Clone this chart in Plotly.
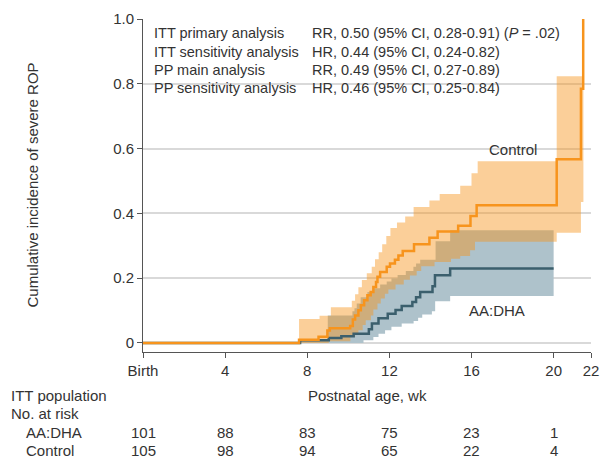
import plotly.graph_objects as go

# ---------------- data ----------------
# Control (cumulative incidence), weeks / value
ctrl_t = [0, 7.6, 8.55, 8.98, 9.1, 10.09, 10.22, 10.33, 10.49, 10.61, 10.77, 10.93, 11.09, 11.22,
          11.35, 11.42, 11.55, 11.87, 12.03, 12.27, 12.44, 12.65, 13.2, 13.95, 14.35, 15.35, 15.95,
          16.25, 20.15, 21.33, 21.44]
ctrl_v = [0, 0.010, 0.019, 0.038, 0.045, 0.052, 0.072, 0.085, 0.101, 0.116, 0.132, 0.147, 0.157, 0.173,
          0.188, 0.204, 0.219, 0.235, 0.245, 0.257, 0.270, 0.284, 0.305, 0.325, 0.344, 0.362, 0.392,
          0.425, 0.567, 0.785, 1.0]

ctrl_hi_t = [7.6, 8.6, 9.15, 10.17, 10.33, 10.49, 10.66, 10.9, 11.14, 11.3, 11.48, 11.65, 11.85, 12.05,
             12.37, 12.77, 13.18, 13.95, 14.45, 15.45, 16.0, 16.3, 20.15, 21.45]
ctrl_hi_v = [0.074, 0.084, 0.11, 0.13, 0.15, 0.172, 0.194, 0.215, 0.235, 0.258, 0.28, 0.305, 0.33, 0.355,
             0.372, 0.39, 0.42, 0.44, 0.46, 0.485, 0.524, 0.561, 0.823, 0.823]

ctrl_lo_t = [7.6, 9.05, 10.1, 10.33, 10.49, 10.7, 10.85, 11.1, 11.22, 11.42, 11.58, 11.78, 11.95, 12.3,
             12.7, 13.0, 13.33, 13.55, 14.2, 15.0, 15.45, 15.93, 16.17, 20.15, 21.33, 21.45]
ctrl_lo_v = [0, 0.005, 0.018, 0.029, 0.039, 0.055, 0.07, 0.085, 0.103, 0.122, 0.137, 0.152, 0.165, 0.18,
             0.195, 0.208, 0.222, 0.237, 0.25, 0.26, 0.268, 0.286, 0.312, 0.34, 0.435, 0.435]

# AA:DHA
aa_t = [0, 7.65, 9.05, 9.66, 10.26, 11.0, 11.15, 11.47, 11.92, 12.3, 12.6, 13.12, 13.3, 13.5, 14.1,
        14.22, 14.96, 20.0]
aa_v = [0, 0.008, 0.015, 0.021, 0.028, 0.042, 0.06, 0.076, 0.09, 0.102, 0.114, 0.126, 0.141, 0.157,
        0.175, 0.209, 0.23, 0.23]

aa_hi_t = [7.65, 9.0, 10.2, 10.3, 10.41, 10.6, 10.93, 11.22, 11.55, 11.87, 12.1, 12.4, 12.8, 13.17,
           13.3, 13.5, 14.25, 14.96, 20.0]
aa_hi_v = [0.01, 0.085, 0.098, 0.107, 0.122, 0.141, 0.157, 0.169, 0.18, 0.19, 0.2, 0.21, 0.222, 0.235,
           0.245, 0.257, 0.314, 0.348, 0.348]

aa_lo_t = [7.65, 10.74, 11.22, 11.47, 11.79, 12.1, 12.6, 13.18, 13.4, 13.6, 14.07, 14.23, 14.96, 20.0]
aa_lo_v = [0, 0.008, 0.018, 0.028, 0.039, 0.05, 0.06, 0.068, 0.078, 0.088, 0.098, 0.129, 0.145, 0.145]

# axes
x_axis_end = 21.82
x_tick_vals = [0, 4, 8, 12, 16, 20, x_axis_end]
x_tick_text = ["Birth", "4", "8", "12", "16", "20", "22"]
y_tick_vals = [0, 0.2, 0.4, 0.6, 0.8, 1.0]
y_tick_text = ["0", "0.2", "0.4", "0.6", "0.8", "1.0"]

# statistics box
stat_labels = ["ITT primary analysis", "ITT sensitivity analysis", "PP main analysis",
               "PP sensitivity analysis"]
stat_values = ["RR, 0.50 (95% CI, 0.28-0.91) (<i>P</i> = .02)", "HR, 0.44 (95% CI, 0.24-0.82)",
               "RR, 0.49 (95% CI, 0.27-0.89)", "HR, 0.46 (95% CI, 0.25-0.84)"]

# number at risk
risk_weeks = [0, 4, 8, 12, 16, 20]
risk_aadha = [101, 88, 83, 75, 23, 1]
risk_control = [105, 98, 94, 65, 22, 4]

# ---------------- style ----------------
ORANGE = "#F7941D"
ORANGE_FILL = "rgba(247,148,29,0.45)"
TEAL = "#3B5F6D"
TEAL_FILL = "rgb(174,194,203)"
TXT = "#333333"
FONT = "Liberation Sans, Arial, sans-serif"

# page body has an 8px default margin: lay the figure out in window pixels minus that offset
OFF = 8
W, H = 610 - OFF, 459 - OFF
plot_left, plot_right, plot_top, plot_bottom = 143.0 - OFF, 591.0 - OFF, 19.0 - OFF, 351.7 - OFF
plot_w = plot_right - plot_left
plot_h = plot_bottom - plot_top

def px_of(xpix):  # window pixel -> paper x
    return (xpix - OFF - plot_left) / plot_w

def py_of(ypix):  # window pixel -> paper y
    return (plot_bottom - (ypix - OFF)) / plot_h

fig = go.Figure()

# AA:DHA band
fig.add_trace(go.Scatter(x=aa_lo_t, y=aa_lo_v, mode="lines", line=dict(width=0, shape="hv"),
                         hoverinfo="skip"))
fig.add_trace(go.Scatter(x=aa_hi_t, y=aa_hi_v, mode="lines", line=dict(width=0, shape="hv"),
                         fill="tonexty", fillcolor=TEAL_FILL, hoverinfo="skip"))
# Control band
fig.add_trace(go.Scatter(x=ctrl_lo_t, y=ctrl_lo_v, mode="lines", line=dict(width=0, shape="hv"),
                         hoverinfo="skip"))
fig.add_trace(go.Scatter(x=ctrl_hi_t, y=ctrl_hi_v, mode="lines", line=dict(width=0, shape="hv"),
                         fill="tonexty", fillcolor=ORANGE_FILL, hoverinfo="skip"))
# lines
fig.add_trace(go.Scatter(x=aa_t, y=aa_v, mode="lines", line=dict(color=TEAL, width=2.5, shape="hv")))
fig.add_trace(go.Scatter(x=ctrl_t, y=ctrl_v, mode="lines", line=dict(color=ORANGE, width=2.5, shape="hv")))

annotations = []
# stats box
row_y = [33.3, 51.7, 70.0, 88.3]
for lab, val, yp in zip(stat_labels, stat_values, row_y):
    annotations.append(dict(x=px_of(151.5), y=py_of(yp), xref="paper", yref="paper", text=lab,
                            showarrow=False, xanchor="left", yanchor="middle",
                            font=dict(size=14.5, color=TXT)))
    annotations.append(dict(x=px_of(310), y=py_of(yp), xref="paper", yref="paper", text=val,
                            showarrow=False, xanchor="left", yanchor="middle",
                            font=dict(size=14.5, color=TXT)))

# curve labels
annotations.append(dict(x=18.03, y=0.598, xref="x", yref="y", text="Control", showarrow=False,
                        font=dict(size=15, color=TXT)))
annotations.append(dict(x=17.26, y=0.099, xref="x", yref="y", text="AA:DHA", showarrow=False,
                        font=dict(size=15, color=TXT)))

# y-axis title
annotations.append(dict(x=px_of(32), y=0.5, xref="paper", yref="paper",
                        text="Cumulative incidence of severe ROP", textangle=-90, showarrow=False,
                        xanchor="center", yanchor="middle", font=dict(size=15, color=TXT)))

# x-axis title and risk table
annotations.append(dict(x=0.5, y=py_of(395), xref="paper", yref="paper", text="Postnatal age, wk",
                        showarrow=False, xanchor="center", yanchor="middle", font=dict(size=15, color=TXT)))
annotations.append(dict(x=px_of(8.5), y=py_of(395), xref="paper", yref="paper", text="ITT population",
                        showarrow=False, xanchor="left", yanchor="middle", font=dict(size=15, color=TXT)))
annotations.append(dict(x=px_of(8.5), y=py_of(413.5), xref="paper", yref="paper", text="No. at risk",
                        showarrow=False, xanchor="left", yanchor="middle", font=dict(size=15, color=TXT)))
annotations.append(dict(x=px_of(24), y=py_of(432), xref="paper", yref="paper", text="AA:DHA",
                        showarrow=False, xanchor="left", yanchor="middle", font=dict(size=15, color=TXT)))
annotations.append(dict(x=px_of(24), y=py_of(450.5), xref="paper", yref="paper", text="Control",
                        showarrow=False, xanchor="left", yanchor="middle", font=dict(size=15, color=TXT)))
for wk, a, c in zip(risk_weeks, risk_aadha, risk_control):
    annotations.append(dict(x=wk, y=py_of(432), xref="x", yref="paper", text=str(a), showarrow=False,
                            xanchor="center", yanchor="middle", font=dict(size=15, color=TXT)))
    annotations.append(dict(x=wk, y=py_of(450.5), xref="x", yref="paper", text=str(c), showarrow=False,
                            xanchor="center", yanchor="middle", font=dict(size=15, color=TXT)))

fig.update_layout(
    width=W, height=H, autosize=False,
    margin=dict(l=plot_left, r=W - plot_right, t=plot_top, b=H - plot_bottom, pad=0, autoexpand=False),
    paper_bgcolor="white", plot_bgcolor="white",
    showlegend=False, hovermode=False,
    font=dict(family=FONT, size=15, color=TXT),
    annotations=annotations,
    xaxis=dict(range=[0, x_axis_end], tickvals=x_tick_vals, ticktext=x_tick_text, automargin=False,
               showgrid=False, zeroline=False, showline=True, linecolor="#555555", linewidth=1,
               ticks="outside", ticklen=5, tickcolor="#555555", tickfont=dict(size=15, color=TXT)),
    yaxis=dict(range=[-0.028, 1.0], tickvals=y_tick_vals, ticktext=y_tick_text, automargin=False,
               showgrid=True, gridcolor="#d9d9d9", gridwidth=1.5, zeroline=False,
               showline=True, linecolor="#555555", linewidth=1,
               ticks="outside", ticklen=5, tickcolor="#555555", tickfont=dict(size=15, color=TXT)),
)

fig.write_html("out.html")
